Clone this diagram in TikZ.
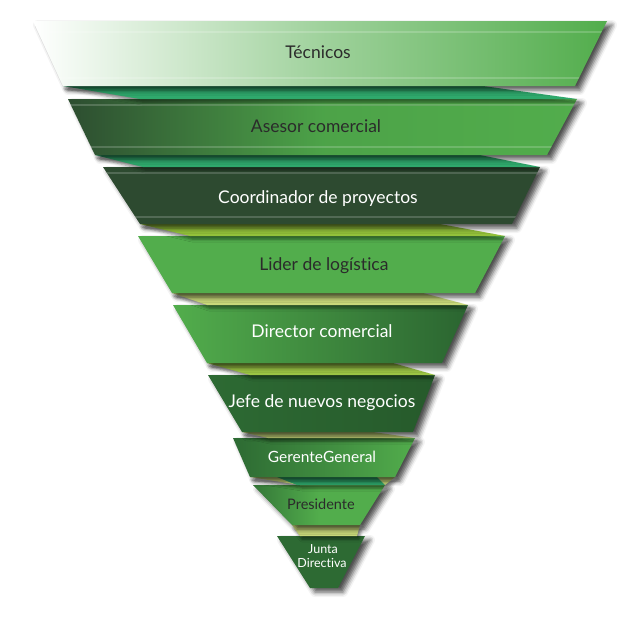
\documentclass[tikz,border=0pt]{standalone}
\usepackage{fontspec}
\setmainfont{Lato}[Ligatures=NoCommon]
\usetikzlibrary{shadows.blur}
\definecolor{tealfold}{HTML}{2FA96C}
\definecolor{limefold}{HTML}{93C13A}
\definecolor{palefold}{HTML}{C8D87A}
\definecolor{midgreen}{HTML}{52AD4C}
\definecolor{darkgreen}{HTML}{2D6A33}
\definecolor{deepgreen}{HTML}{2D4A30}
\definecolor{lbldark}{HTML}{2B2B2B}
\begin{document}
\begin{tikzpicture}[x=1pt,y=-1pt,
  band/.style={blur shadow={shadow xshift=5pt,shadow yshift=-4pt,shadow blur radius=5pt,shadow opacity=70}},
  fold/.style={blur shadow={shadow xshift=2pt,shadow yshift=-3pt,shadow blur radius=3pt,shadow opacity=50}},
  stripe/.style={white,opacity=0.18,line width=2pt},
  darklbl/.style={text=lbldark,anchor=base,font=\fontsize{17.5}{20}\selectfont},
  lightlbl/.style={text=white,anchor=base,font=\fontsize{17.5}{20}\selectfont}]
\useasboundingbox (0,0) rectangle (640,616);

% from the bottom of the funnel upwards
\fill[band,darkgreen] (277,536)--(365,536)--(338,588)--(310,588)--cycle;
\fill[fold,palefold] (292,525)--(360,525)--(357,536)--(300,536)--cycle;
\path[band,left color=darkgreen!80!midgreen,right color=midgreen,middle color=midgreen]
  (253,485)--(385,485)--(360,525)--(292,525)--cycle;
\fill[fold,palefold] (250,477)--(395,477)--(385,485)--(300,485)--cycle;
\fill[tealfold] (277,477)--(377,477)--(385,485)--(297,485)--cycle;
\path[band,left color=darkgreen,right color=midgreen]
  (233,438)--(415,438)--(395,477)--(250,477)--cycle;
\fill[fold,palefold] (242,432)--(373,432)--(415,438)--(268,438)--cycle;
\path[band,left color=darkgreen,right color=darkgreen!85!black]
  (208,375)--(435,375)--(413,432)--(242,432)--cycle;
\fill[fold,limefold!85!palefold] (207,363)--(393,363)--(435,375)--(250,375)--cycle;
\path[band,left color=midgreen,right color=darkgreen!95!black]
  (173,305)--(468,305)--(442,363)--(207,363)--cycle;
\fill[fold,palefold] (172,293)--(423,293)--(468,305)--(207,305)--cycle;
\fill[band,midgreen] (138,236)--(505,236)--(475,293)--(172,293)--cycle;
\fill[fold,limefold] (140,224)--(440,224)--(505,236)--(190,236)--cycle;
\fill[band,deepgreen] (103,167)--(540,167)--(512,224)--(140,224)--cycle;
\begin{scope}
  \clip (103,167)--(540,167)--(512,224)--(140,224)--cycle;
  \draw[stripe] (0,173)--(640,173);
  \draw[stripe] (0,217)--(640,217);
\end{scope}
\fill[fold,tealfold] (95,155)--(480,155)--(540,167)--(143,167)--cycle;
\path[band,left color=deepgreen!90!darkgreen,right color=midgreen,middle color=midgreen!85!darkgreen]
  (68,99)--(577,99)--(547,155)--(95,155)--cycle;
\begin{scope}
  \clip (68,99)--(577,99)--(547,155)--(95,155)--cycle;
  \draw[stripe] (0,105)--(640,105);
  \draw[stripe] (0,147)--(640,147);
\end{scope}
\fill[fold,tealfold] (63,86)--(483,86)--(577,99)--(140,99)--cycle;
\path[band,left color=white,right color=midgreen,middle color=midgreen!55!white]
  (33,21)--(607,21)--(575,86)--(63,86)--cycle;
\begin{scope}
  \clip (33,21)--(607,21)--(575,86)--(63,86)--cycle;
  \draw[stripe] (0,32)--(640,32);
  \draw[stripe] (0,78)--(640,78);
\end{scope}

\node[darklbl] (tec) at (318,58) {Técnicos};
\node[darklbl] (ase) at (316,132) {Asesor comercial};
\node[lightlbl] (coo) at (318,203) {Coordinador de proyectos};
\node[darklbl] (lid) at (324,270) {Lider de logística};
\node[lightlbl] (dir) at (322,337) {Director comercial};
\node[lightlbl] (jef) at (322,407) {Jefe de nuevos negocios};
\node[lightlbl,font=\fontsize{15.5}{17}\selectfont] (ger) at (322,462) {GerenteGeneral};
\node[darklbl,font=\fontsize{14.5}{16}\selectfont] (pre) at (321,509) {Presidente};
\node[lightlbl,font=\fontsize{12.5}{14}\selectfont] (jun) at (323,553) {Junta};
\node[lightlbl,font=\fontsize{12.5}{14}\selectfont] (dirv) at (322,567) {Directiva};
\end{tikzpicture}
\end{document}
